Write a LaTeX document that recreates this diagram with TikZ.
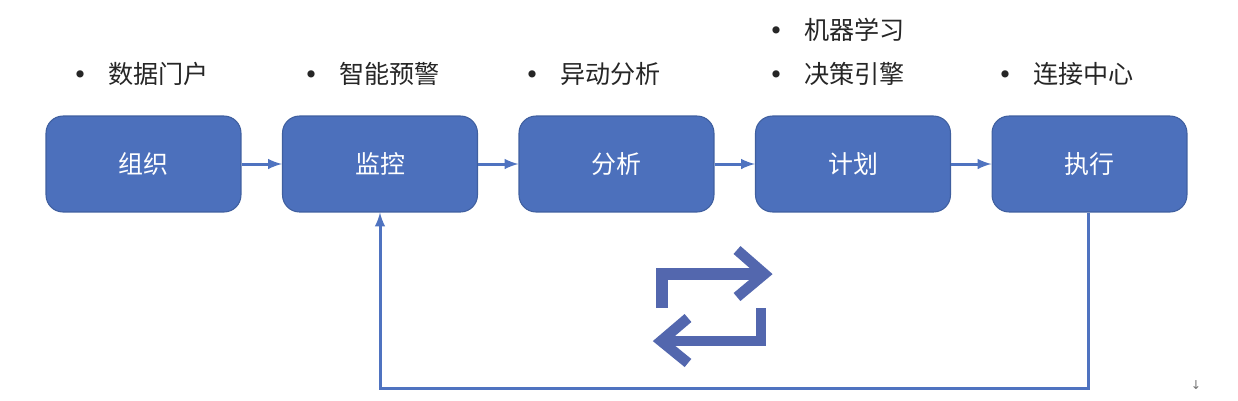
\documentclass[tikz,border=0pt]{standalone}
\usepackage{fontspec}
\setmainfont{Noto Sans CJK SC}
\newfontfamily\symfont{DejaVu Sans}
\definecolor{boxblue}{HTML}{4C70BC}
\definecolor{boxedge}{HTML}{3F5F9F}
\definecolor{linkblue}{HTML}{4F73C0}
\definecolor{iconblue}{HTML}{5367AE}
\newcommand{\itm}[1]{\makebox[0pt][r]{\symfont\fontsize{14pt}{14pt}\selectfont •\hspace{0.42cm}}#1}
\tikzset{
	stagebox/.style={draw=boxedge,fill=boxblue,rounded corners=0.34cm,minimum width=3.9cm,minimum height=1.92cm,text=white,font=\fontsize{14.2pt}{15pt}\selectfont,line width=0.6pt},
	tool/.style={anchor=west,inner sep=0pt,text=black!85,font=\fontsize{14.3pt}{15pt}\selectfont},
	link/.style={->,>=latex,draw=linkblue,line width=0.06cm},
	icon/.style={draw=iconblue,line width=0.24cm,miter limit=10}
}
\begin{document}
\begin{tikzpicture}[x=0.02cm,y=-0.02cm]
\useasboundingbox (0,0) rectangle (1238,400);
\node[stagebox] (zuzhi) at (143.5,164) {组织};
\node[stagebox] (jiankong) at (380,164) {监控};
\node[stagebox] (fenxi) at (616.5,164) {分析};
\node[stagebox] (jihua) at (853,164) {计划};
\node[stagebox] (zhixing) at (1089.5,164) {执行};
\node[tool] (t1) at (108,74) {\itm{数据门户}};
\node[tool] (t2) at (339,74) {\itm{智能预警}};
\node[tool] (t3) at (560,74) {\itm{异动分析}};
\node[tool] (t4) at (804,30) {\itm{机器学习}};
\node[tool] (t5) at (804,74) {\itm{决策引擎}};
\node[tool] (t6) at (1033,74) {\itm{连接中心}};
\draw[link] (zuzhi) -- (jiankong);
\draw[link] (jiankong) -- (fenxi);
\draw[link] (fenxi) -- (jihua);
\draw[link] (jihua) -- (zhixing);
\coordinate (down) at (1088,388);
\draw[link] (zhixing.south -| down) -- (down) -| (jiankong.south);
% swap icon
\draw[icon] (662,308) -- (662,274) -- (762,274);
\draw[icon,line width=0.21cm] (737,250) -- (764.5,274) -- (737,297);
\draw[icon,line width=0.21cm] (761,308) -- (761,341) -- (665,341);
\draw[icon,line width=0.21cm] (688,318) -- (661,341) -- (688,363);
\node[inner sep=0pt,text=black!55,font=\symfont\fontsize{7pt}{7pt}\selectfont] (mark) at (1196,385) {↓};
\end{tikzpicture}
\end{document}
